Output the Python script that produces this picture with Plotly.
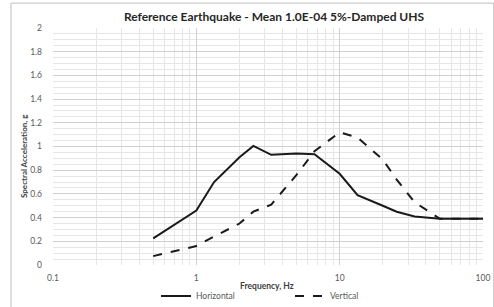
import plotly.graph_objects as go

freq_h = [0.5, 1.0, 1.33, 2.0, 2.5, 3.33, 5.0, 6.67, 10.0, 13.33, 20.0, 25.0, 33.33, 50.0, 100.0]
sa_h = [0.225, 0.46, 0.70, 0.91, 1.005, 0.93, 0.94, 0.935, 0.77, 0.59, 0.50, 0.45, 0.41, 0.39, 0.39]

freq_v = [0.5, 1.0, 1.33, 2.0, 2.5, 3.33, 5.0, 6.67, 10.0, 13.33, 20.0, 25.0, 33.33, 50.0, 100.0]
sa_v = [0.075, 0.16, 0.24, 0.35, 0.45, 0.51, 0.76, 0.96, 1.12, 1.075, 0.89, 0.72, 0.53, 0.39, 0.39]

title_text = "Reference Earthquake - Mean 1.0E-04 5%-Damped UHS"
x_title = "Frequency, Hz"
y_title = "Spectral Acceleration, g"
x_ticks = [0.1, 1, 10, 100]
x_ticklabels = ["0.1", "1", "10", "100"]
y_ticks = [0, 0.2, 0.4, 0.6, 0.8, 1.0, 1.2, 1.4, 1.6, 1.8, 2.0]
y_ticklabels = ["0", "0.2", "0.4", "0.6", "0.8", "1", "1.2", "1.4", "1.6", "1.8", "2"]

FONT = "Lato, 'Open Sans', sans-serif"

fig = go.Figure()
fig.add_trace(go.Scatter(x=freq_h, y=sa_h, mode="lines", name="Horizontal",
                         line=dict(color="#1a1a1a", width=2)))
fig.add_trace(go.Scatter(x=freq_v, y=sa_v, mode="lines", name="Vertical",
                         line=dict(color="#1a1a1a", width=2, dash="dash")))

fig.update_layout(
    width=494, height=307,
    margin=dict(l=53, r=11, t=28, b=42, autoexpand=False),
    paper_bgcolor="white", plot_bgcolor="white",
    font=dict(family=FONT, size=8, color="#595959"),
    title=dict(text="<b>" + title_text + "</b>", x=274/494, xanchor="center",
               y=1 - 17/307, yanchor="middle",
               font=dict(family=FONT, size=12, color="#262626")),
    showlegend=True,
    legend=dict(orientation="h", x=0.2395, xanchor="left",
                yref="container", y=1 - 296/307, yanchor="middle",
                font=dict(family=FONT, size=8.5, color="#595959"),
                entrywidth=89, entrywidthmode="pixels", itemwidth=30,
                bgcolor="rgba(0,0,0,0)"),
    shapes=[dict(type="rect", xref="paper", yref="paper",
                 x0=-0.0977, x1=1.025, y0=-0.25, y1=1.105,
                 line=dict(color="#bfbfbf", width=1), fillcolor="rgba(0,0,0,0)", layer="below")],
    annotations=[
        dict(text="<b>" + x_title + "</b>", xref="paper", yref="paper",
             x=(267 - 53) / 430, y=(265 - 286) / 237, xanchor="center", yanchor="middle",
             showarrow=False, font=dict(family=FONT, size=8.5, color="#404040")),
        dict(text="<b>" + y_title + "</b>", xref="paper", yref="paper",
             x=(24 - 53) / 430, y=(265 - 156) / 237, xanchor="center", yanchor="middle",
             textangle=-90, showarrow=False, font=dict(family=FONT, size=8, color="#404040")),
    ],
)

fig.update_xaxes(type="log", range=[-1, 2], tickvals=x_ticks, ticktext=x_ticklabels,
                 showgrid=True, gridcolor="#d0d0d0", gridwidth=1,
                 minor=dict(showgrid=True, gridcolor="#e6e6e6", gridwidth=1,
                            tickvals=[a * 10 ** e for e in (-1, 0, 1) for a in range(2, 10)]),
                 showline=False, zeroline=False, ticks="", ticklabelstandoff=6,
                 ticklabeloverflow="allow", automargin=False,
                 tickfont=dict(family=FONT, size=8.5, color="#595959"))
fig.update_yaxes(range=[0, 2], tickvals=y_ticks, ticktext=y_ticklabels,
                 showgrid=True, gridcolor="#d0d0d0", gridwidth=1,
                 minor=dict(showgrid=True, gridcolor="#e6e6e6", gridwidth=1, dtick=0.05),
                 showline=False, zeroline=False, ticks="", ticklabelstandoff=10,
                 ticklabeloverflow="allow", automargin=False,
                 tickfont=dict(family=FONT, size=8.5, color="#595959"))

fig.write_html("out.html", config={"displayModeBar": False},
               post_script="document.body.style.margin='0';")
